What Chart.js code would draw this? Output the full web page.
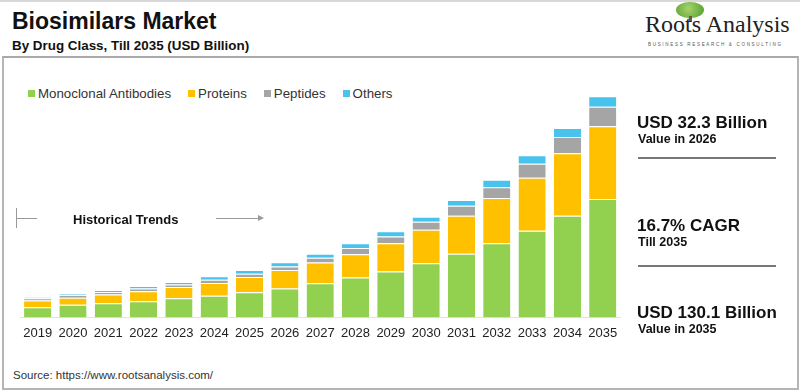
<!DOCTYPE html>
<html>
<head>
<meta charset="utf-8">
<script src="https://cdn.jsdelivr.net/npm/chart.js@4.4.0/dist/chart.umd.min.js"></script>
<style>
  body { margin: 0; width: 800px; height: 391px; background: #fff; font-family: "Liberation Sans", Arial, sans-serif; position: relative; overflow: hidden; }
  .abs { position: absolute; }
  #topline { left: 0; top: 0; width: 800px; height: 2px; background: #d8d8d8; }
  #frame { left: 2px; top: 56px; width: 793px; height: 330px; border: 2px solid #b5b5b5; border-top: 2px solid #a9a9a9; }
  #title { left: 12px; top: 8px; font-size: 23px; font-weight: bold; color: #111; }
  #subtitle { left: 12px; top: 38px; font-size: 13.4px; font-weight: bold; color: #111; }
  #logo { left: 645px; top: 11px; font-family: "Liberation Serif", "DejaVu Serif", serif; font-size: 24px; color: #222; }
  #logosub { left: 648px; top: 42px; font-size: 4.5px; letter-spacing: 1.7px; color: #555; }
  #tree { left: 676px; top: 2px; width: 28px; height: 16px; border-radius: 50%; background: radial-gradient(circle at 45% 40%, #a5d46a, #4f9a2e); }
  #trunk { left: 689px; top: 16px; width: 3px; height: 6px; background: #6b5a3a; }
  #legend { left: 28px; top: 86px; font-size: 13.3px; color: #333; display: flex; }
  #legend span.item { display: flex; align-items: center; margin-right: 17px; }
  #legend span.box { width: 7px; height: 7px; margin-right: 3px; display: inline-block; }
  #chartbox { left: 0; top: 57px; width: 640px; height: 284px; }
  #ht { left: 73px; top: 212px; font-size: 13px; font-weight: bold; color: #111; }
  #htv { left: 16px; top: 208px; width: 1px; height: 20px; background: #999; }
  #hth { left: 16px; top: 218px; width: 21px; height: 1px; background: #999; }
  #arr { left: 216px; top: 218px; width: 44px; height: 1px; background: #999; }
  #arrh { left: 258px; top: 215px; width: 0; height: 0; border-top: 3.5px solid transparent; border-bottom: 3.5px solid transparent; border-left: 6px solid #999; }
  .big { font-size: 17px; font-weight: bold; color: #111; left: 637px; }
  .small { font-size: 12.5px; font-weight: bold; color: #111; left: 638px; }
  .sep { left: 638px; width: 138px; height: 2px; background: #777; }
  #source { left: 13px; top: 369px; font-size: 11.5px; color: #333; }
</style>
</head>
<body>
<div id="topline" class="abs"></div>
<div id="frame" class="abs"></div>
<div id="title" class="abs">Biosimilars Market</div>
<div id="subtitle" class="abs">By Drug Class, Till 2035 (USD Billion)</div>
<div id="tree" class="abs"></div>
<div id="trunk" class="abs"></div>
<div id="logo" class="abs">Roots Analysis</div>
<div id="logosub" class="abs">BUSINESS RESEARCH &amp; CONSULTING</div>
<div id="legend" class="abs"></div>
<div id="chartbox" class="abs"><canvas id="canvas"></canvas></div>
<div id="htv" class="abs"></div>
<div id="hth" class="abs"></div>
<div id="ht" class="abs">Historical Trends</div>
<div id="arr" class="abs"></div>
<div id="arrh" class="abs"></div>
<div class="abs big" style="top:113px">USD 32.3 Billion</div>
<div class="abs small" style="top:132px">Value in 2026</div>
<div class="abs sep" style="top:157px"></div>
<div class="abs big" style="top:216px">16.7% CAGR</div>
<div class="abs small" style="top:235px">Till 2035</div>
<div class="abs sep" style="top:265px"></div>
<div class="abs big" style="top:303px">USD 130.1 Billion</div>
<div class="abs small" style="top:322px">Value in 2035</div>
<div id="source" class="abs">Source: https://www.rootsanalysis.com/</div>
<script>
var years = ['2019','2020','2021','2022','2023','2024','2025','2026','2027','2028','2029','2030','2031','2032','2033','2034','2035'];
var seriesNames = ['Monoclonal Antibodies', 'Proteins', 'Peptides', 'Others'];
var seriesColors = ['#92D050', '#FFC000', '#A5A5A5', '#47C3EE'];
var monoclonal = [5.9, 7.5, 8.3, 9.5, 11.2, 12.7, 14.8, 17.0, 20.1, 23.5, 27.0, 31.8, 37.4, 43.6, 50.9, 59.7, 69.6];
var proteins   = [4.1, 4.0, 5.1, 5.9, 6.7, 7.5, 8.9, 10.8, 12.2, 13.6, 16.6, 19.7, 22.3, 26.6, 31.2, 36.8, 42.8];
var peptides   = [1.2, 1.6, 1.6, 1.6, 1.4, 1.9, 2.0, 2.2, 2.7, 3.7, 3.9, 4.7, 5.9, 6.3, 8.3, 9.5, 11.4];
var others     = [0.6, 0.8, 1.0, 1.4, 1.5, 2.1, 2.2, 2.4, 2.4, 2.8, 3.2, 3.0, 3.5, 4.4, 4.9, 5.3, 6.3];
var allSeries = [monoclonal, proteins, peptides, others];

var legendHtml = '';
for (var i = 0; i < seriesNames.length; i++) {
    legendHtml += "<span class='item'><span class='box' style='background:" + seriesColors[i] + "'></span>" + seriesNames[i] + "</span>";
}
document.getElementById('legend').innerHTML = legendHtml;

var datasets = [];
for (var i = 0; i < seriesNames.length; i++) {
    datasets.push({
        label: seriesNames[i],
        data: allSeries[i],
        backgroundColor: seriesColors[i],
        borderColor: 'rgba(255,255,255,0.85)',
        borderWidth: {top: 1, left: 0, right: 0, bottom: 0},
        borderSkipped: 'bottom',
        barPercentage: 0.77,
        categoryPercentage: 1.0
    });
}

var ctx = document.getElementById('canvas');
var myChart = new Chart(ctx, {
    type: 'bar',
    data: { labels: years, datasets: datasets },
    options: {
        responsive: true,
        maintainAspectRatio: false,
        animation: false,
        layout: { padding: { left: 20, right: 19.6, top: 2.4, bottom: 0 } },
        plugins: {
            legend: { display: false },
            tooltip: { enabled: false }
        },
        scales: {
            x: {
                stacked: true,
                grid: { display: false },
                border: { display: true, color: '#e2e2e2' },
                ticks: {
                    color: '#222',
                    maxRotation: 0,
                    autoSkip: false,
                    padding: 0,
                    font: { family: '"Liberation Sans", Arial, sans-serif', size: 13 }
                }
            },
            y: {
                stacked: true,
                display: false,
                min: 0,
                max: 151.7
            }
        }
    }
});
</script>
</body>
</html>
